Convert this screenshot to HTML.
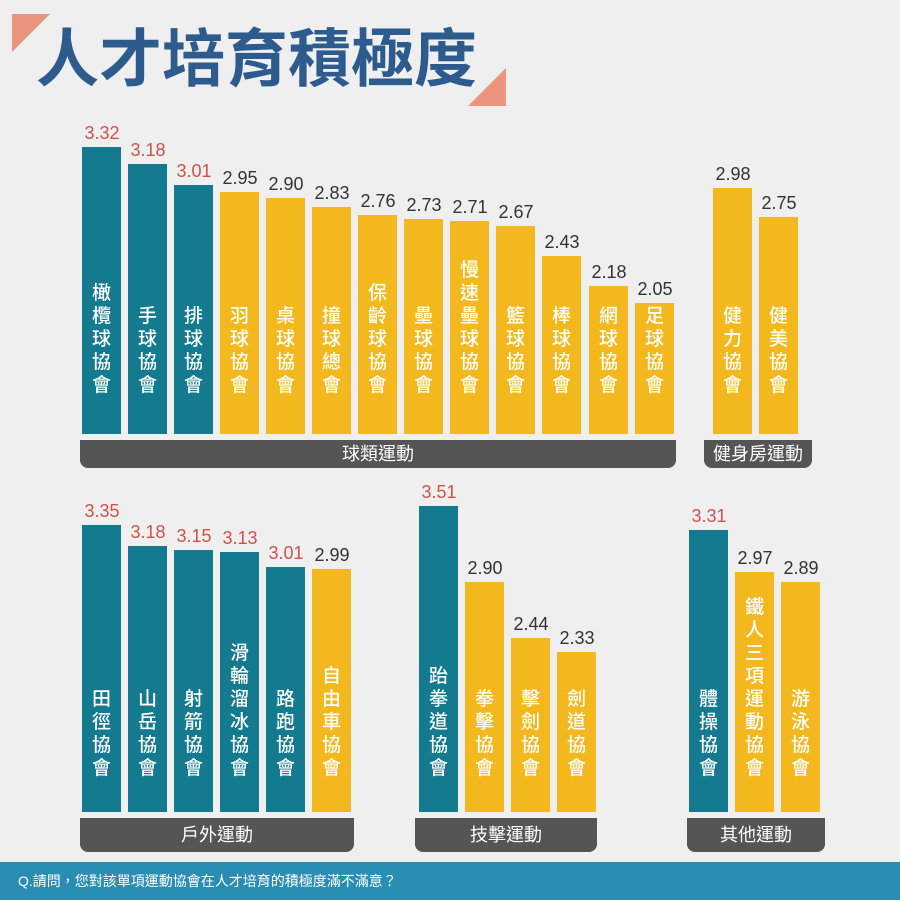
<!DOCTYPE html>
<html><head><meta charset="utf-8"><style>
body{margin:0;width:900px;height:900px;background:#efefef;position:relative;overflow:hidden;font-family:"Liberation Sans","Noto Sans CJK TC",sans-serif}
.b{position:absolute;width:39px}
.t{background:#137a8f}.y{background:#f2b81d}
.b span{position:absolute;left:0;right:0;text-align:center;color:#fff;font-size:19px;line-height:23px;font-weight:500}
.r1 span{bottom:37px}.r2 span{bottom:32px}
.v{position:absolute;width:60px;margin-left:-10px;text-align:center;font-size:18px;color:#333;line-height:20px}
.v.red{color:#d0514a}
.g{position:absolute;background:#555;color:#fff;text-align:center;font-size:18px;border-radius:0 0 8px 8px}
</style></head><body>
<svg style="position:absolute;left:0;top:0" width="900" height="120">
<polygon points="12,14 50,14 12,52" fill="#eb957f"/>
<polygon points="468,106 506,68 506,106" fill="#eb957f"/>
</svg>
<div style="position:absolute;left:36px;top:22px;font-size:63px;font-weight:bold;color:#2d5b8d;line-height:76px">人才培育積極度</div>

<!-- top row -->
<div class="b t r1" style="left:82px;top:147px;height:287px"><span>橄<br>欖<br>球<br>協<br>會</span></div><div class="v red" style="left:82px;top:123px">3.32</div>
<div class="b t r1" style="left:128px;top:164px;height:270px"><span>手<br>球<br>協<br>會</span></div><div class="v red" style="left:128px;top:140px">3.18</div>
<div class="b t r1" style="left:174px;top:185px;height:249px"><span>排<br>球<br>協<br>會</span></div><div class="v red" style="left:174px;top:161px">3.01</div>
<div class="b y r1" style="left:220px;top:192px;height:242px"><span>羽<br>球<br>協<br>會</span></div><div class="v" style="left:220px;top:168px">2.95</div>
<div class="b y r1" style="left:266px;top:198px;height:236px"><span>桌<br>球<br>協<br>會</span></div><div class="v" style="left:266px;top:174px">2.90</div>
<div class="b y r1" style="left:312px;top:207px;height:227px"><span>撞<br>球<br>總<br>會</span></div><div class="v" style="left:312px;top:183px">2.83</div>
<div class="b y r1" style="left:358px;top:215px;height:219px"><span>保<br>齡<br>球<br>協<br>會</span></div><div class="v" style="left:358px;top:191px">2.76</div>
<div class="b y r1" style="left:404px;top:219px;height:215px"><span>壘<br>球<br>協<br>會</span></div><div class="v" style="left:404px;top:195px">2.73</div>
<div class="b y r1" style="left:450px;top:221px;height:213px"><span>慢<br>速<br>壘<br>球<br>協<br>會</span></div><div class="v" style="left:450px;top:197px">2.71</div>
<div class="b y r1" style="left:496px;top:226px;height:208px"><span>籃<br>球<br>協<br>會</span></div><div class="v" style="left:496px;top:202px">2.67</div>
<div class="b y r1" style="left:542px;top:256px;height:178px"><span>棒<br>球<br>協<br>會</span></div><div class="v" style="left:542px;top:232px">2.43</div>
<div class="b y r1" style="left:589px;top:286px;height:148px"><span>網<br>球<br>協<br>會</span></div><div class="v" style="left:589px;top:262px">2.18</div>
<div class="b y r1" style="left:635px;top:303px;height:131px"><span>足<br>球<br>協<br>會</span></div><div class="v" style="left:635px;top:279px">2.05</div>
<div class="g" style="left:80px;top:440px;width:596px;height:28px;line-height:28px">球類運動</div>

<div class="b y r1" style="left:713px;top:188px;height:246px"><span>健<br>力<br>協<br>會</span></div><div class="v" style="left:713px;top:164px">2.98</div>
<div class="b y r1" style="left:759px;top:217px;height:217px"><span>健<br>美<br>協<br>會</span></div><div class="v" style="left:759px;top:193px">2.75</div>
<div class="g" style="left:704px;top:440px;width:108px;height:28px;line-height:28px">健身房運動</div>

<!-- bottom row -->
<div class="b t r2" style="left:82px;top:525px;height:287px"><span>田<br>徑<br>協<br>會</span></div><div class="v red" style="left:82px;top:501px">3.35</div>
<div class="b t r2" style="left:128px;top:546px;height:266px"><span>山<br>岳<br>協<br>會</span></div><div class="v red" style="left:128px;top:522px">3.18</div>
<div class="b t r2" style="left:174px;top:550px;height:262px"><span>射<br>箭<br>協<br>會</span></div><div class="v red" style="left:174px;top:526px">3.15</div>
<div class="b t r2" style="left:220px;top:552px;height:260px"><span>滑<br>輪<br>溜<br>冰<br>協<br>會</span></div><div class="v red" style="left:220px;top:528px">3.13</div>
<div class="b t r2" style="left:266px;top:567px;height:245px"><span>路<br>跑<br>協<br>會</span></div><div class="v red" style="left:266px;top:543px">3.01</div>
<div class="b y r2" style="left:312px;top:569px;height:243px"><span>自<br>由<br>車<br>協<br>會</span></div><div class="v" style="left:312px;top:545px">2.99</div>
<div class="g" style="left:80px;top:818px;width:274px;height:34px;line-height:34px">戶外運動</div>

<div class="b t r2" style="left:419px;top:506px;height:306px"><span>跆<br>拳<br>道<br>協<br>會</span></div><div class="v red" style="left:419px;top:482px">3.51</div>
<div class="b y r2" style="left:465px;top:582px;height:230px"><span>拳<br>擊<br>協<br>會</span></div><div class="v" style="left:465px;top:558px">2.90</div>
<div class="b y r2" style="left:511px;top:638px;height:174px"><span>擊<br>劍<br>協<br>會</span></div><div class="v" style="left:511px;top:614px">2.44</div>
<div class="b y r2" style="left:557px;top:652px;height:160px"><span>劍<br>道<br>協<br>會</span></div><div class="v" style="left:557px;top:628px">2.33</div>
<div class="g" style="left:415px;top:818px;width:182px;height:34px;line-height:34px">技擊運動</div>

<div class="b t r2" style="left:689px;top:530px;height:282px"><span>體<br>操<br>協<br>會</span></div><div class="v red" style="left:689px;top:506px">3.31</div>
<div class="b y r2" style="left:735px;top:572px;height:240px"><span>鐵<br>人<br>三<br>項<br>運<br>動<br>協<br>會</span></div><div class="v" style="left:735px;top:548px">2.97</div>
<div class="b y r2" style="left:781px;top:582px;height:230px"><span>游<br>泳<br>協<br>會</span></div><div class="v" style="left:781px;top:558px">2.89</div>
<div class="g" style="left:687px;top:818px;width:138px;height:34px;line-height:34px">其他運動</div>

<div style="position:absolute;left:0;top:862px;width:900px;height:38px;background:#2a8db4;color:#fff;font-size:14px;line-height:38px;padding-left:18px;box-sizing:border-box">Q.請問，您對該單項運動協會在人才培育的積極度滿不滿意？</div>
</body></html>
